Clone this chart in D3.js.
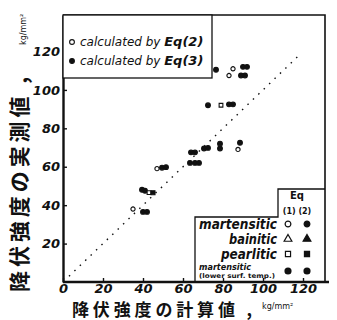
<!DOCTYPE html>
<html>
<head>
<meta charset="utf-8">
<script src="https://cdn.jsdelivr.net/npm/d3@7"></script>
<style>
  body { margin: 0; background: #fff; }
  svg { display: block; }
  .tick text { font-family: "DejaVu Sans", sans-serif; font-style: italic; font-weight: bold; font-size: 13px; fill: #111; }
  .jp { font-family: "Noto Sans CJK JP", sans-serif; font-weight: bold; fill: #111; }
</style>
</head>
<body>
<div id="chart"></div>
<script>
// axis ticks
const xTicks = [0, 20, 40, 60, 80, 100, 120];
const yTicks = [20, 40, 60, 80, 100, 120];
const diagonal = [[3, 3], [119, 119]];

// [calculated, measured] in kg/mm2
const eq2Martensitic = [[85, 111], [83, 107.5], [87.5, 69], [47, 59], [35, 38]];
const eq3Martensitic = [[90, 112], [92, 112], [89, 107.5], [91, 107.5], [76.5, 110.5], [72.5, 92], [83, 92.5], [85, 92.5],
  [64, 67.5], [66, 67.5], [70.5, 69.5], [72.5, 69.8], [63.5, 62], [66, 62], [68, 62], [78.5, 72], [78.5, 69.5], [88.5, 72.5],
  [49.5, 59.5], [51.5, 59.8], [39.5, 48], [41, 47.5], [40, 36.5], [42, 36.5]];
const eq2Pearlitic = [[79, 92], [43, 46.5]];
const eq3Pearlitic = [[45, 46.5]];

const legendTop = ['calculated  by ', 'calculated  by '];
const legendEq = ['Eq(2)', 'Eq(3)'];
const structures = ['martensitic', 'bainitic', 'pearlitic'];
const structWidth = [78, 48, 56];

const W = 337, H = 320;
const x = d3.scaleLinear().domain([0, 131]).range([63, 325]);
const y = d3.scaleLinear().domain([0, 139]).range([282, 15]);

const svg = d3.select('#chart').append('svg').attr('width', W).attr('height', H);
const ink = '#111';

// frame
svg.append('path')
  .attr('d', `M${x(0)},${y(139)} H${x(131)} V${y(0)}`)
  .attr('fill', 'none').attr('stroke', ink).attr('stroke-width', 1.6);

const gx = svg.append('g').attr('transform', `translate(0,${y(0)})`)
  .call(d3.axisBottom(x).tickValues(xTicks).tickSizeInner(-4).tickSizeOuter(0).tickPadding(2));
const gy = svg.append('g').attr('transform', `translate(${x(0)},0)`)
  .call(d3.axisLeft(y).tickValues(yTicks).tickSizeInner(-4).tickSizeOuter(0).tickPadding(3));
[gx, gy].forEach(g => {
  g.select('.domain').attr('stroke', ink).attr('stroke-width', 2.4);
  g.selectAll('.tick line').attr('stroke', ink).attr('stroke-width', 1.4);
});
gx.select('.domain').attr('d', `M${x(0)},0H${x(133)}`);

// dotted y = x line
svg.append('path')
  .attr('d', d3.line().x(d => x(d[0])).y(d => y(d[1]))(diagonal))
  .attr('fill', 'none').attr('stroke', ink).attr('stroke-width', 1.4).attr('stroke-dasharray', '1.5,6');

// points
const sym = (type, size) => d3.symbol().type(type).size(size)();
function plot(data, type, filled, size) {
  svg.append('g').selectAll('path').data(data).enter().append('path')
    .attr('transform', d => `translate(${x(d[0])},${y(d[1])})`)
    .attr('d', sym(type, size))
    .attr('fill', filled ? ink : '#fff')
    .attr('stroke', ink).attr('stroke-width', 1.1);
}
plot(eq3Martensitic, d3.symbolCircle, true, 18);
plot(eq2Martensitic, d3.symbolCircle, false, 14);
plot(eq2Pearlitic, d3.symbolSquare, false, 14);
plot(eq3Pearlitic, d3.symbolSquare, true, 16);

// top-left legend
svg.append('rect').attr('x', x(0)).attr('y', y(139)).attr('width', 149).attr('height', 63)
  .attr('fill', '#fff').attr('stroke', ink).attr('stroke-width', 1.3);
legendTop.forEach((t, i) => {
  const ly = 46 + i * 19;
  svg.append('circle').attr('cx', 72).attr('cy', ly - 4).attr('r', 2.4)
    .attr('fill', i ? ink : '#fff').attr('stroke', ink).attr('stroke-width', 1.1);
  const tx = svg.append('text').attr('x', 80).attr('y', ly)
    .attr('font-family', 'DejaVu Sans, sans-serif').attr('font-style', 'italic').attr('fill', ink);
  tx.append('tspan').attr('font-size', 12).text(t);
  tx.append('tspan').attr('font-size', 13).attr('font-weight', 'bold').text(legendEq[i]);
});

// bottom-right legend
svg.append('path')
  .attr('d', `M195,${y(0)} V217 H278 V189 H${x(131)}`)
  .attr('fill', 'none').attr('stroke', ink).attr('stroke-width', 1.3);
svg.append('text').attr('x', 297).attr('y', 199).attr('text-anchor', 'middle')
  .attr('font-family', 'DejaVu Sans, sans-serif').attr('font-weight', 'bold').attr('font-size', 10).attr('fill', ink).text('Eq');
svg.append('text').attr('x', 297).attr('y', 214).attr('text-anchor', 'middle')
  .attr('font-family', 'DejaVu Sans, sans-serif').attr('font-weight', 'bold').attr('font-size', 8).attr('fill', ink).text('(1)  (2)');
const symTypes = [d3.symbolCircle, d3.symbolTriangle, d3.symbolSquare];
structures.forEach((s, i) => {
  const ly = 229 + i * 15;
  svg.append('text').attr('x', 277).attr('y', ly).attr('text-anchor', 'end')
    .attr('font-family', 'DejaVu Sans, sans-serif').attr('font-style', 'italic').attr('font-weight', 'bold')
    .attr('font-size', 14).attr('textLength', structWidth[i]).attr('lengthAdjust', 'spacingAndGlyphs')
    .attr('fill', ink).text(s);
  [0, 1].forEach(j => {
    svg.append('path').attr('transform', `translate(${288 + j * 19},${ly - 5})`)
      .attr('d', sym(symTypes[i], 26))
      .attr('fill', j ? ink : '#fff').attr('stroke', ink).attr('stroke-width', 1.2);
  });
});
svg.append('text').attr('x', 199).attr('y', 270)
  .attr('font-family', 'DejaVu Sans, sans-serif').attr('font-style', 'italic').attr('font-weight', 'bold')
  .attr('font-size', 9).attr('textLength', 52).attr('lengthAdjust', 'spacingAndGlyphs').attr('fill', ink).text('martensitic');
svg.append('text').attr('x', 199).attr('y', 278)
  .attr('font-family', 'DejaVu Sans, sans-serif').attr('font-weight', 'bold')
  .attr('font-size', 6.5).attr('textLength', 76).attr('lengthAdjust', 'spacingAndGlyphs').attr('fill', ink).text('(lower surf. temp.)');
[0, 1].forEach(j => {
  svg.append('path').attr('transform', `translate(${288 + j * 19},271)`)
    .attr('d', sym(d3.symbolCircle, 40)).attr('fill', ink);
});

// axis titles
svg.append('text').attr('class', 'jp').attr('x', 72).attr('y', 316).attr('font-size', 17)
  .attr('textLength', 180).attr('lengthAdjust', 'spacing').text('降伏強度の計算値 ,');
svg.append('text').attr('x', 262).attr('y', 309)
  .attr('font-family', 'DejaVu Sans, sans-serif').attr('font-size', 8).attr('fill', ink).text('kg/mm²');
svg.append('text').attr('class', 'jp').attr('transform', 'translate(27,292) rotate(-90)').attr('font-size', 21)
  .attr('textLength', 215).attr('lengthAdjust', 'spacing').text('降伏強度の実測値 ,');
svg.append('text').attr('transform', 'translate(26,45) rotate(-90)')
  .attr('font-family', 'DejaVu Sans, sans-serif').attr('font-size', 8).attr('fill', ink).text('kg/mm²');
</script>
</body>
</html>
